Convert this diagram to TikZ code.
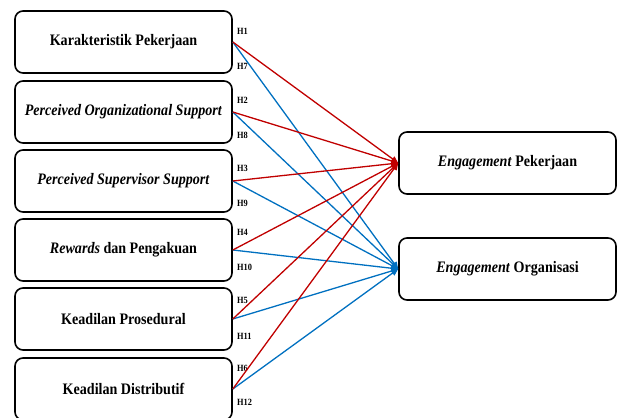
\documentclass[tikz,border=0pt]{standalone}
\usepackage{fontspec}
\setmainfont{Liberation Serif}[FakeStretch=0.88]
\usetikzlibrary{arrows.meta}

\definecolor{hred}{RGB}{192,0,0}
\definecolor{hblue}{RGB}{0,112,192}

\tikzset{
  var/.style={draw, rounded corners=8pt, line width=1.6pt, minimum width=217pt, minimum height=62pt, font=\bfseries\fontsize{16}{18}\selectfont},
  hyp/.style={anchor=west, inner sep=0pt, font=\bfseries\fontsize{9.5}{11}\selectfont},
  toep/.style={draw=hred, line width=1.3pt, -{Triangle[length=7pt,width=6pt]}},
  toeo/.style={draw=hblue, line width=1.3pt, -{Triangle[length=7pt,width=6pt]}}
}

\begin{document}
\begin{tikzpicture}[x=1pt,y=-1pt]
\useasboundingbox (0,0) rectangle (617,417);
\node[var] (kp) at (123.5,42){Karakteristik Pekerjaan};
\node[var] (pos) at (123.5,112){\textit{Perceived Organizational Support}};
\node[var] (pss) at (123.5,181){\textit{Perceived Supervisor Support}};
\node[var] (rdp) at (123.5,250){\textit{Rewards} dan Pengakuan};
\node[var] (kpr) at (123.5,319){Keadilan Prosedural};
\node[var] (kds) at (123.5,389){Keadilan Distributif};
\node[var] (ep) at (507.5,163){\textit{Engagement} Pekerjaan};
\node[var] (eo) at (507.5,269){\textit{Engagement} Organisasi};
% hipotesis
\node[hyp] (h1) at (237,31){H1};
\node[hyp] (h7) at (237,66){H7};
\node[hyp] (h2) at (237,100){H2};
\node[hyp] (h8) at (237,135){H8};
\node[hyp] (h3) at (237,168){H3};
\node[hyp] (h9) at (237,203){H9};
\node[hyp] (h4) at (237,232){H4};
\node[hyp] (h10) at (237,267){H10};
\node[hyp] (h5) at (237,300){H5};
\node[hyp] (h11) at (237,336){H11};
\node[hyp] (h6) at (237,368){H6};
\node[hyp] (h12) at (237,402){H12};
\draw[toeo](kp.east) -- (eo.west);
\draw[toeo](pos.east) -- (eo.west);
\draw[toeo](pss.east) -- (eo.west);
\draw[toeo](rdp.east) -- (eo.west);
\draw[toeo](kpr.east) -- (eo.west);
\draw[toeo](kds.east) -- (eo.west);
\draw[toep](kp.east) -- (ep.west);
\draw[toep](pos.east) -- (ep.west);
\draw[toep](pss.east) -- (ep.west);
\draw[toep](rdp.east) -- (ep.west);
\draw[toep](kpr.east) -- (ep.west);
\draw[toep](kds.east) -- (ep.west);
\end{tikzpicture}
\end{document}
